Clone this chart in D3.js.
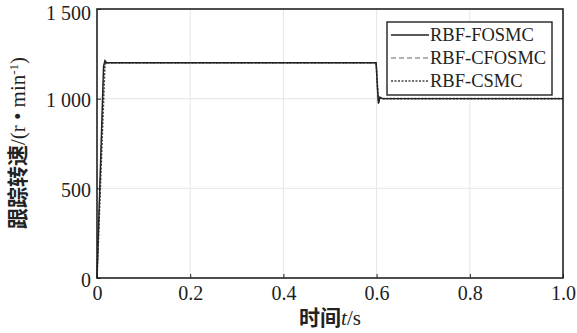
<!DOCTYPE html>
<html><head><meta charset="utf-8">
<script src="https://cdn.jsdelivr.net/npm/d3@7"></script>
<style>body{margin:0;background:#fff} .tk text{font-family:'Liberation Serif','Times New Roman',serif !important;}</style>
</head><body>
<svg id="c" width="577" height="333"></svg>
<script>
const xTicks = [0, 0.2, 0.4, 0.6, 0.8, 1.0];
const xTickLabels = ["0", "0.2", "0.4", "0.6", "0.8", "1.0"];
const yTicks = [0, 500, 1000, 1500];
const yTickLabels = ["0", "500", "1 000", "1 500"];
const seriesNames = ["RBF-FOSMC", "RBF-CFOSMC", "RBF-CSMC"];
const timeFOSMC = [0, 0.014, 0.017, 0.020, 0.599, 0.602, 0.604, 0.607, 0.612, 1.0];
const valFOSMC  = [0, 1180, 1212, 1200, 1200, 1050, 972, 1008, 1000, 1000];
const timeCFOSMC = [0, 0.015, 0.018, 0.021, 0.599, 0.602, 0.604, 0.607, 0.612, 1.0];
const valCFOSMC  = [0, 1185, 1210, 1200, 1200, 1060, 976, 1006, 1000, 1000];
const timeCSMC = [0, 0.010, 0.017, 0.020, 0.599, 0.602, 0.604, 0.607, 0.612, 1.0];
const valCSMC  = [0, 700, 1190, 1200, 1200, 1070, 982, 1004, 1000, 1000];

const svg = d3.select("#c");
const L = 97, R = 563, T = 9, B = 278;
const x = d3.scaleLinear().domain([0, 1]).range([L, R]);
const y = d3.scaleLinear().domain([0, 1500]).range([B, T]);
const serif = "'Liberation Serif', 'Times New Roman', serif";
const cjk = "'Noto Sans CJK SC', sans-serif";

// grid
svg.append("g").selectAll("line").data(xTicks.slice(1, -1)).join("line")
  .attr("x1", d => x(d)).attr("x2", d => x(d)).attr("y1", T).attr("y2", B)
  .attr("stroke", "#e6e6e6").attr("stroke-width", 1);
svg.append("g").selectAll("line").data(yTicks.slice(1, -1)).join("line")
  .attr("x1", L).attr("x2", R).attr("y1", d => y(d)).attr("y2", d => y(d))
  .attr("stroke", "#e6e6e6").attr("stroke-width", 1);

// axes
const xAxis = d3.axisBottom(x).tickValues(xTicks).tickFormat((d, i) => xTickLabels[i]).tickSize(-4).tickPadding(6);
const yAxis = d3.axisLeft(y).tickValues(yTicks).tickFormat((d, i) => yTickLabels[i]).tickSize(-4).tickPadding(6);
const gx = svg.append("g").attr("class", "tk").attr("transform", `translate(0,${B})`).call(xAxis);
const gy = svg.append("g").attr("class", "tk").attr("transform", `translate(${L},0)`).call(yAxis);
[gx, gy].forEach(g => {
  g.attr("font-family", serif).attr("font-size", 20);
  g.select(".domain").remove();
  g.selectAll("line").attr("stroke", "#222");
  g.selectAll("text").attr("font-family", serif).attr("font-size", 20).attr("fill", "#222");
});
gx.selectAll("text").attr("dy", "0.8em");
gy.selectAll("text").attr("dy", d => d === 1500 ? "0.5em" : "0.4em");

// lines
const line = d3.line().x(d => x(d[0])).y(d => y(d[1]));
const mk = (t, v) => t.map((d, i) => [d, v[i]]);
const data = [
  {pts: mk(timeCFOSMC, valCFOSMC), color: "#999", dash: "5,3", w: 1.4},
  {pts: mk(timeCSMC, valCSMC), color: "#444", dash: "2,1.5", w: 1.6},
  {pts: mk(timeFOSMC, valFOSMC), color: "#222", dash: null, w: 1.4},
];
data.forEach(s => {
  svg.append("path").attr("d", line(s.pts)).attr("fill", "none")
    .attr("stroke", s.color).attr("stroke-width", s.w)
    .attr("stroke-dasharray", s.dash);
});

// frame
svg.append("rect").attr("x", L).attr("y", T).attr("width", R - L).attr("height", B - T)
  .attr("fill", "none").attr("stroke", "#222").attr("stroke-width", 1.6);

// legend
const lg = svg.append("g");
lg.append("rect").attr("x", 387).attr("y", 22).attr("width", 165).attr("height", 73)
  .attr("fill", "#fff").attr("stroke", "#222").attr("stroke-width", 1.4);
const legStyles = [
  {color: "#222", dash: null, w: 1.3},
  {color: "#999", dash: "5,3", w: 1.3},
  {color: "#444", dash: "2,1.5", w: 1.5},
];
seriesNames.forEach((n, i) => {
  const yy = 35 + i * 23;
  lg.append("line").attr("x1", 391).attr("x2", 429).attr("y1", yy).attr("y2", yy)
    .attr("stroke", legStyles[i].color).attr("stroke-width", legStyles[i].w)
    .attr("stroke-dasharray", legStyles[i].dash);
  lg.append("text").attr("x", 430).attr("y", yy).attr("dy", "0.35em")
    .attr("font-family", serif).attr("font-size", 18.5).attr("fill", "#222").text(n);
});

// axis labels
const xl = svg.append("text").attr("x", 330).attr("y", 325).attr("text-anchor", "middle")
  .attr("font-size", 21).attr("fill", "#222");
xl.append("tspan").attr("font-family", cjk).attr("font-weight", "bold").text("时间");
xl.append("tspan").attr("font-family", serif).attr("font-style", "italic").text("t");
xl.append("tspan").attr("font-family", serif).text("/s");

const yl = svg.append("text").attr("transform", "translate(25,143) rotate(-90)")
  .attr("text-anchor", "middle").attr("font-size", 21).attr("fill", "#222");
yl.append("tspan").attr("font-family", cjk).attr("font-weight", "bold").text("跟踪转速");
yl.append("tspan").attr("font-family", serif).text("/(r • min");
yl.append("tspan").attr("font-family", serif).attr("font-size", 13).attr("dy", -7).text("-1");
yl.append("tspan").attr("font-family", serif).attr("dy", 7).text(")");
</script>
</body></html>
